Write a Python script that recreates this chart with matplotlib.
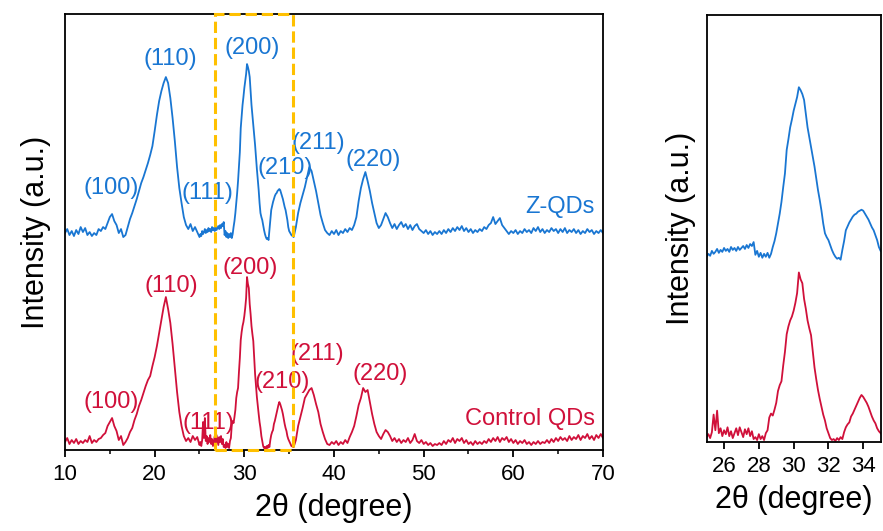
import numpy as np
import matplotlib
matplotlib.use("Agg")
import matplotlib.pyplot as plt
from matplotlib.patches import Rectangle
from matplotlib.ticker import MultipleLocator

plt.rcParams['font.family'] = ['Liberation Sans', 'DejaVu Sans']

# XRD intensities (a.u.)
# segment A: 10.00-24.75 deg, step 0.25
red_a = [8, 12, 6, 10, 7, 11, 6, 9, 7, 10, 8, 14, 7, 10, 8, 11, 12, 15, 17, 24,
         28, 32, 24, 19, 10, 14, 5, 8, 12, 18, 22, 30, 36, 44, 50, 57, 64, 70, 74, 84,
         93, 104, 117, 130, 143, 153, 141, 127, 106, 82, 58, 38, 24, 14, 9, 12, 8, 14, 10, 13]
blue_a = [10, 14, 8, 12, 7, 13, 9, 16, 11, 15, 8, 11, 7, 10, 8, 14, 12, 16, 14, 20,
          26, 29, 22, 18, 10, 14, 6, 8, 16, 24, 30, 37, 44, 52, 60, 66, 73, 80, 88, 97,
          112, 128, 142, 152, 160, 166, 160, 145, 125, 102, 76, 55, 40, 26, 18, 14, 19, 12, 16, 11]

# segment B: 25.0-34.9 deg, step 0.1
red_b = [5, 8, 4, 10, 28, 12, 32, 9, 14, 6, 12, 8, 15, 6, 11, 4, 9, 14, 7, 15,
         10, 5, 13, 8, 14, 6, 11, 3, 5, 2, 8, 3, 6, 2, 9, 12, 25, 29, 27, 33,
         40, 52, 58, 62, 78, 92, 110, 118, 124, 128, 134, 142, 152, 173, 166, 162, 146, 136, 124, 116,
         109, 92, 76, 64, 53, 44, 36, 28, 22, 14, 9, 4, 2, 3, 1, 4, 2, 5, 3, 10,
         15, 18, 20, 26, 29, 33, 37, 41, 45, 48, 46, 43, 40, 36, 31, 26, 22, 19, 14, 11]
blue_b = [6, 9, 7, 12, 9, 11, 14, 10, 13, 11, 15, 12, 14, 11, 16, 13, 15, 12, 16, 13,
          15, 17, 14, 18, 15, 19, 17, 21, 8, 12, 6, 10, 5, 9, 6, 10, 5, 9, 16, 22,
          30, 40, 50, 62, 77, 91, 115, 126, 138, 146, 155, 162, 169, 179, 176, 172, 166, 152, 138, 128,
          118, 108, 98, 86, 74, 64, 53, 40, 30, 26, 23, 18, 13, 9, 6, 4, 5, 3, 13, 22,
          33, 37, 41, 44, 47, 49, 50, 52, 53, 54, 53, 50, 47, 44, 40, 36, 33, 28, 23, 16]

# segment C: 35.00-70.00 deg, step 0.25
red_c = [9, 4, 3, 10, 24, 33, 42, 52, 56, 60, 62, 55, 46, 38, 26, 18, 11, 6, 5, 8,
         6, 9, 5, 8, 6, 10, 7, 13, 18, 24, 34, 45, 52, 62, 58, 60, 48, 36, 26, 18,
         14, 11, 16, 20, 18, 14, 9, 12, 8, 11, 7, 10, 8, 12, 7, 10, 16, 9, 7, 10,
         6, 8, 5, 7, 4, 6, 5, 7, 5, 9, 6, 10, 8, 12, 7, 11, 9, 12, 7, 10,
         6, 8, 5, 9, 6, 8, 6, 9, 7, 11, 8, 12, 9, 13, 8, 12, 10, 13, 8, 11,
         7, 10, 6, 9, 7, 10, 6, 8, 5, 8, 6, 9, 6, 8, 7, 10, 7, 11, 8, 12,
         9, 13, 10, 12, 9, 14, 10, 13, 11, 15, 10, 14, 12, 16, 11, 14, 10, 15, 12, 16, 12]
blue_c = [12, 8, 6, 16, 30, 40, 48, 56, 66, 76, 72, 62, 52, 40, 28, 20, 13, 10, 8, 12,
          9, 13, 8, 12, 10, 14, 11, 15, 13, 18, 26, 42, 55, 64, 71, 62, 52, 40, 30, 20,
          15, 18, 24, 30, 26, 20, 15, 19, 14, 18, 21, 16, 19, 14, 18, 13, 17, 19, 14, 12,
          10, 13, 9, 12, 8, 11, 9, 12, 9, 13, 10, 14, 11, 15, 12, 16, 13, 17, 12, 15,
          11, 14, 10, 13, 11, 14, 12, 16, 14, 18, 20, 26, 19, 22, 25, 18, 15, 12, 9, 12,
          10, 13, 9, 12, 10, 14, 11, 13, 10, 15, 12, 16, 11, 14, 10, 13, 11, 15, 12, 14,
          10, 14, 11, 15, 10, 13, 11, 14, 10, 13, 9, 12, 10, 14, 11, 13, 9, 12, 10, 13, 10]


def two_theta(a, b, c):
    return np.concatenate([10 + 0.25 * np.arange(len(a)),
                           25 + 0.1 * np.arange(len(b)),
                           35 + 0.25 * np.arange(len(c))])


x_red = two_theta(red_a, red_b, red_c)
x_blue = two_theta(blue_a, blue_b, blue_c)
y_red = np.array(red_a + red_b + red_c, dtype=float)
y_blue = np.array(blue_a + blue_b + blue_c, dtype=float)

planes = ['(100)', '(110)', '(111)', '(200)', '(210)', '(211)', '(220)']
blue_lbl_x = [15.2, 21.7, 25.9, 30.85, 34.6, 38.2, 44.4]
blue_lbl_y = [262, 391, 257, 402, 282, 307, 290]
red_lbl_x = [15.2, 21.9, 25.95, 30.6, 34.2, 38.1, 45.1]
red_lbl_y = [48, 164, 27, 182, 68, 96, 76]

BLUE = '#1976d2'
RED = '#d0103a'
GOLD = '#ffc000'
offset_main = 207
offset_zoom = 183
LBL = 17

fig = plt.figure(figsize=(8.83, 5.31), dpi=100)
ax = fig.add_axes([0.0736, 0.1525, 0.6093, 0.821])
ax2 = fig.add_axes([0.8003, 0.1676, 0.197, 0.8047])

ax.plot(x_blue, y_blue + offset_main, color=BLUE, lw=1.3)
ax.plot(x_red, y_red, color=RED, lw=1.3)
for p, x, y in zip(planes, blue_lbl_x, blue_lbl_y):
    ax.text(x, y, p, color=BLUE, fontsize=LBL, ha='center', va='center')
for p, x, y in zip(planes, red_lbl_x, red_lbl_y):
    ax.text(x, y, p, color=RED, fontsize=LBL, ha='center', va='center')
ax.text(65.2, 243, 'Z-QDs', color=BLUE, fontsize=LBL, ha='center', va='center')
ax.text(61.9, 31, 'Control QDs', color=RED, fontsize=LBL, ha='center', va='center')

ax.add_patch(Rectangle((26.73, 0), 35.46 - 26.73, 436, fill=False, ls='--',
                       lw=2.2, edgecolor=GOLD, clip_on=False, zorder=5))

ax.set_xlim(10, 70)
ax.set_ylim(0, 436)
ax.xaxis.set_major_locator(MultipleLocator(10))
ax.xaxis.set_minor_locator(MultipleLocator(5))
ax.set_xlabel('2θ (degree)', fontsize=22, labelpad=6)
ax.set_ylabel('Intensity (a.u.)', fontsize=22, labelpad=10)

ax2.plot(x_blue, y_blue + offset_zoom, color=BLUE, lw=1.3)
ax2.plot(x_red, y_red, color=RED, lw=1.3)
ax2.set_xlim(25, 35)
ax2.set_ylim(0, 436)
ax2.xaxis.set_major_locator(MultipleLocator(2))
ax2.set_xlabel('2θ (degree)', fontsize=22, labelpad=6)
ax2.set_ylabel('Intensity (a.u.)', fontsize=22, labelpad=8)

for a in (ax, ax2):
    a.set_yticks([])
    for s in a.spines.values():
        s.set_linewidth(1.3)
    a.tick_params(axis='x', which='major', direction='out', length=5, width=1.3,
                  labelsize=16, pad=5)
    a.tick_params(axis='x', which='minor', direction='out', length=3, width=1.1)

fig.savefig('out.png', dpi=100)
